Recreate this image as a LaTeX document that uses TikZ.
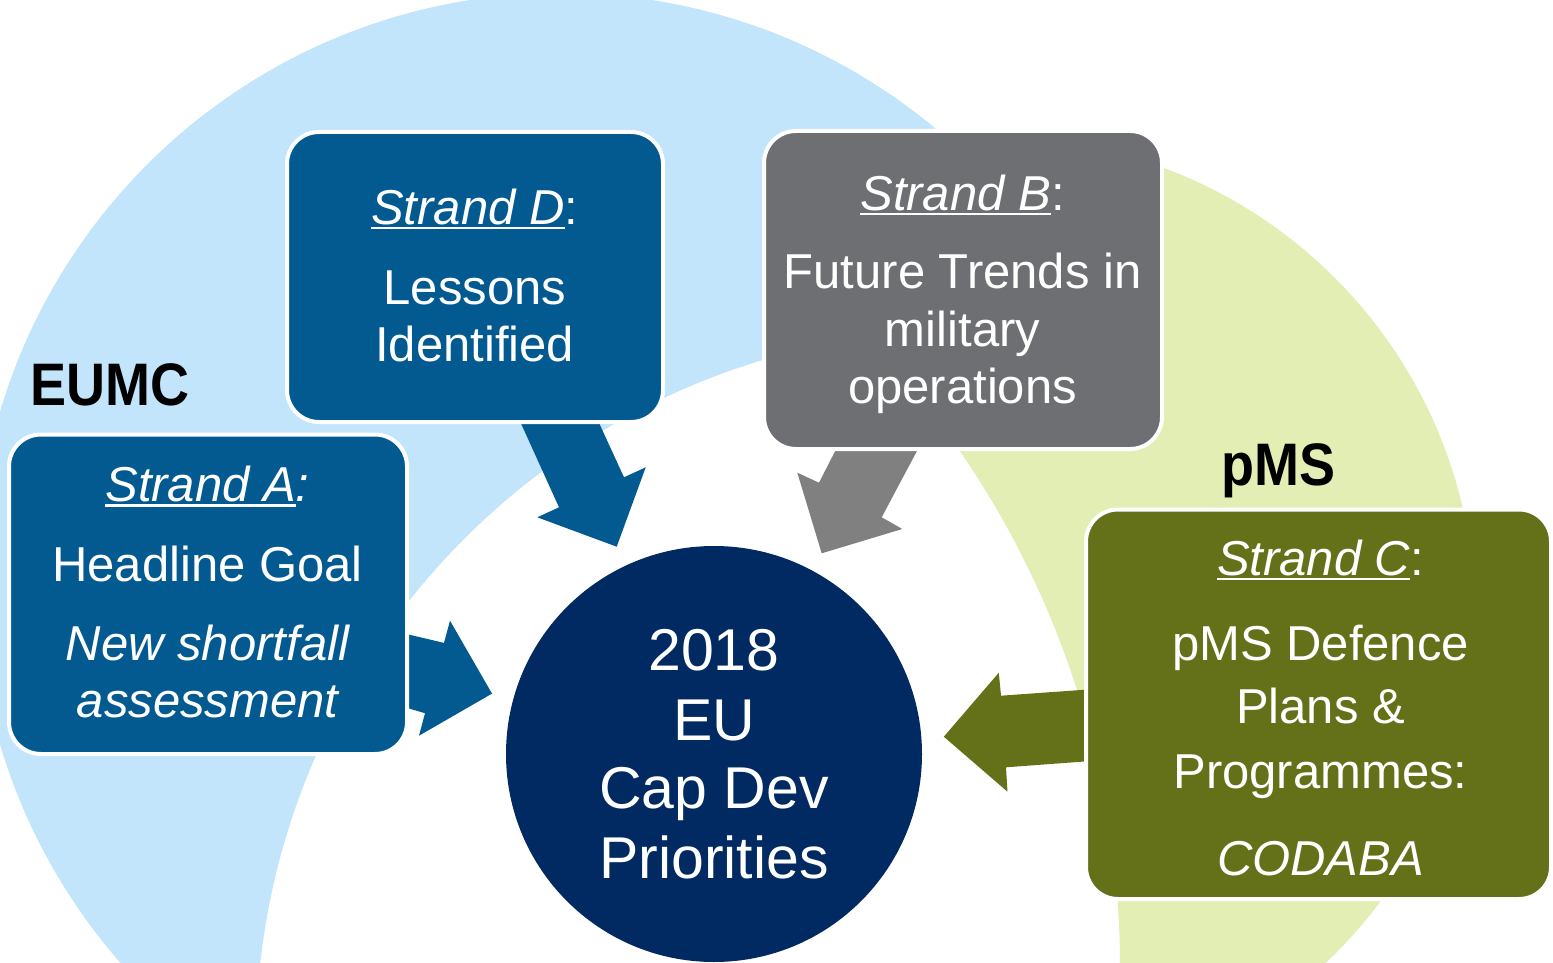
\documentclass[tikz,border=0pt]{standalone}
\usepackage{fontspec}
\setmainfont{Liberation Sans}
\definecolor{ltblue}{HTML}{C2E5FB}
\definecolor{ltgreen}{HTML}{E3EEB5}
\definecolor{boxblue}{HTML}{035A90}
\definecolor{boxgray}{HTML}{6E6F73}
\definecolor{boxgreen}{HTML}{647119}
\definecolor{navy}{HTML}{002A61}
\definecolor{arrgray}{HTML}{808080}
\newcommand\fs[1]{\fontsize{#1}{#1}\selectfont}
\newcommand\ulx[1]{\setbox0\hbox{#1}\rlap{\rule[-5pt]{\wd0}{2.5pt}}\box0}
\begin{document}
\begin{tikzpicture}[x=1pt,y=-1pt,
  box/.style={rectangle, rounded corners=32pt, draw=white, line width=4pt, inner sep=0pt, outer sep=0pt},
  txt/.style={text=white, inner sep=0pt, anchor=base, font={\fs{49}}},
  ctxt/.style={text=white, inner sep=0pt, anchor=base, font={\fs{59}}},
  lbl/.style={text=black, inner sep=0pt, anchor=base west, font={\fs{60}\bfseries}}]
\useasboundingbox (0,0) rectangle (1553,963);
\clip (0,0) rectangle (1553,963);
% background arcs
\begin{scope}
  \clip (997,616) circle[radius=478pt];
  \fill[ltgreen, even odd rule] (-800,-800) rectangle (2400,2000) (206,968) circle[radius=914pt];
\end{scope}
\begin{scope}
  \clip (561,578) circle[radius=585pt];
  \fill[ltblue, even odd rule] (-800,-800) rectangle (2400,2000) (968,1042) circle[radius=712pt];
\end{scope}
% block arrows
\fill[boxblue] (514.9,410) -- (593.1,410) -- (624,477.3) -- (645.7,467.3) -- (616.7,546.7) -- (537.3,517.3) -- (559,507.3) -- cycle;
\fill[arrgray] (840.8,440) -- (922.8,440) -- (881.7,517.3) -- (902.3,529) -- (821.7,553.3) -- (797.3,472.7) -- (819,482.7) -- cycle;
\fill[boxblue] (395,631.3) -- (444,642.9) -- (450,620.7) -- (492,693.6) -- (419,735.7) -- (425,713.2) -- (395,704.4) -- cycle;
\fill[boxgreen] (1095,689) -- (1001,695.7) -- (998.8,672.7) -- (943.8,736.7) -- (1007.5,791.7) -- (1006,767.3) -- (1095,760.7) -- cycle;
% boxes
\node[box, fill=boxblue, minimum width=376pt, minimum height=290pt] (D) at (475,277) {};
\node[box, fill=boxgray, minimum width=398pt, minimum height=318pt] (B) at (963,290) {};
\node[box, fill=boxblue, minimum width=398pt, minimum height=319.5pt] (A) at (208,594.25) {};
\node[box, fill=boxgreen, minimum width=465pt, minimum height=389.5pt] (C) at (1318.5,704.25) {};
\node[circle, fill=navy, minimum size=416pt, inner sep=0pt] (E) at (714,754) {};
% box D text
\node[txt] (d1) at (474.8,224.3) {\ulx{\itshape Strand D}:};
\node[txt] (d2) at (474.8,304) {Lessons};
\node[txt] (d3) at (474.8,361.7) {Identified};
% box B text
\node[txt] (b1) at (962.5,210) {\ulx{\itshape Strand B}:};
\node[txt] (b2) at (962.5,288.3) {Future Trends in};
\node[txt] (b3) at (962.5,346.7) {military};
\node[txt] (b4) at (962.5,403.3) {operations};
% box A text
\node[txt] (a1) at (207.5,501.7) {\ulx{\itshape Strand A}\textit{:}};
\node[txt] (a2) at (207.5,581.7) {Headline Goal};
\node[txt] (a3) at (207.5,660.7) {\itshape New shortfall};
\node[txt] (a4) at (207.5,717.3) {\itshape assessment};
% box C text
\node[txt] (c1) at (1320.5,575) {\ulx{\itshape Strand C}:};
\node[txt] (c2) at (1320.5,660) {pMS Defence};
\node[txt] (c3) at (1320.5,723.3) {Plans \&};
\node[txt] (c4) at (1320.5,788.3) {Programmes:};
\node[txt] (c5) at (1320.5,875) {\itshape CODABA};
% circle text
\node[ctxt] (e1) at (714,670) {2018};
\node[ctxt] (e2) at (714,740) {EU};
\node[ctxt] (e3) at (714,808.3) {Cap Dev};
\node[ctxt] (e4) at (714,878.3) {Priorities};
% group labels
\node[lbl] (eumc) at (30,405.7) {\scalebox{0.9}[1]{EUMC}};
\node[lbl] (pms) at (1221,485.7) {\scalebox{0.9}[1]{pMS}};
\end{tikzpicture}
\end{document}
